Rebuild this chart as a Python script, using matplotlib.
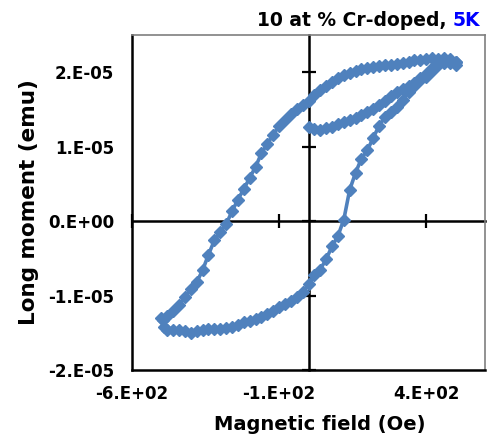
import matplotlib
matplotlib.use("Agg")
import matplotlib.pyplot as plt
import numpy as np

# Field sweep (Oe) and longitudinal moment (units of 1e-5 emu)
# Initial branch: 0 -> +500 Oe
field_initial = [0, 20, 40, 60, 80, 100, 120, 140, 160, 180, 200, 220, 240,
                 260, 280, 300, 320, 340, 360, 380, 400, 420, 440, 460, 480, 500]
moment_initial = [1.26, 1.24, 1.23, 1.25, 1.27, 1.30, 1.33, 1.36, 1.39, 1.42,
                  1.46, 1.51, 1.56, 1.62, 1.68, 1.73, 1.77, 1.82, 1.86, 1.92,
                  1.98, 2.05, 2.12, 2.16, 2.15, 2.14]

# Descending branch: +500 -> -500 Oe
field_down = [500, 480, 460, 440, 420, 400, 380, 360, 340, 320, 300, 280, 260,
              240, 220, 200, 180, 160, 140, 120, 100, 80, 60, 40, 20, 0,
              -20, -40, -60, -80, -100, -120, -140, -160, -180, -200, -220,
              -240, -260, -280, -300, -320, -340, -360, -380, -400, -420,
              -440, -460, -480, -500, -495, -490]
moment_down = [2.14, 2.18, 2.19, 2.18, 2.19, 2.18, 2.17, 2.16, 2.14, 2.12,
               2.11, 2.10, 2.10, 2.08, 2.07, 2.05, 2.04, 2.02, 1.99, 1.96,
               1.92, 1.87, 1.82, 1.76, 1.70, 1.62, 1.56, 1.50, 1.44, 1.36,
               1.28, 1.16, 1.04, 0.91, 0.73, 0.58, 0.43, 0.29, 0.13, -0.04,
               -0.15, -0.26, -0.45, -0.66, -0.82, -0.91, -1.02, -1.13, -1.21,
               -1.27, -1.30, -1.33, -1.42]

# Ascending branch: -500 -> +500 Oe
field_up = [-480, -460, -440, -420, -400, -380, -360, -340, -320, -300, -280,
            -260, -240, -220, -200, -180, -160, -140, -120, -100, -80, -60,
            -40, -20, 0, 20, 40, 60, 80, 100, 120, 140, 160, 180, 200, 220,
            240, 260, 280, 300, 320, 340, 360, 380, 400, 420, 440, 460, 480,
            500]
moment_up = [-1.46, -1.46, -1.46, -1.47, -1.50, -1.48, -1.46, -1.45, -1.45,
             -1.45, -1.43, -1.42, -1.39, -1.36, -1.34, -1.32, -1.29, -1.25,
             -1.21, -1.16, -1.12, -1.07, -1.02, -0.95, -0.85, -0.73, -0.65,
             -0.51, -0.34, -0.20, 0.02, 0.42, 0.65, 0.84, 0.95, 1.12, 1.28,
             1.40, 1.47, 1.53, 1.63, 1.74, 1.81, 1.89, 1.94, 2.01, 2.10, 2.13,
             2.12, 2.10]

x_ticks = [-600, -100, 400]
x_tick_labels = ["-6.E+02", "-1.E+02", "4.E+02"]
y_ticks = [-2, -1, 0, 1, 2]
y_tick_labels = ["-2.E-05", "-1.E-05", "0.E+00", "1.E-05", "2.E-05"]

field = np.array(field_initial + field_down + field_up, dtype=float)
moment = np.array(moment_initial + moment_down + moment_up, dtype=float)

BLUE = "#4F81BD"
FONT = "DejaVu Sans"

fig = plt.figure(figsize=(4.87, 4.34), dpi=100)
rect = [132 / 487, 1 - 370 / 434, (485 - 132) / 487, (370 - 35) / 434]
ax = fig.add_axes(rect)
ax.set_xlim(-600, 600)
ax.set_ylim(-2, 2.5)

# frame: black on left/bottom, grey plot-area border on top/right
for side in ("left", "bottom"):
    ax.spines[side].set_color("black")
    ax.spines[side].set_linewidth(1.8)
for side in ("top", "right"):
    ax.spines[side].set_color("#7f7f7f")
    ax.spines[side].set_linewidth(1.2)

ax.set_xticks(x_ticks)
ax.set_xticklabels(x_tick_labels)
ax.set_yticks(y_ticks)
ax.set_yticklabels(y_tick_labels)
ax.tick_params(axis="both", length=0, labelsize=12)
ax.tick_params(axis="y", pad=13)
ax.tick_params(axis="x", pad=11)
for lbl in ax.get_xticklabels() + ax.get_yticklabels():
    lbl.set_fontfamily(FONT)
    lbl.set_fontweight("bold")

ax.set_xlabel("Magnetic field (Oe)", fontsize=14, fontweight="bold",
              family=FONT)
ax.xaxis.set_label_coords((320 - 132) / 353, -0.135)
ax.set_ylabel("Long moment (emu)", fontsize=15.5, fontweight="bold",
              family=FONT, labelpad=6)

# axes crossing at zero with cross-style tick marks
ax0 = fig.add_axes(rect, sharex=ax, sharey=ax)
ax0.patch.set_visible(False)
for side in ("top", "right"):
    ax0.spines[side].set_visible(False)
ax0.spines["left"].set_position(("data", 0))
ax0.spines["bottom"].set_position(("data", 0))
for side in ("left", "bottom"):
    ax0.spines[side].set_linewidth(1.8)
    ax0.spines[side].set_color("black")
ax0.tick_params(axis="both", direction="inout", length=10, width=1.6,
                labelleft=False, labelbottom=False)
ax0.set_zorder(1)

ax.set_zorder(2)
ax.patch.set_visible(False)
ax.plot(field, moment, color=BLUE, lw=2.6, marker="D", ms=6.2,
        mec=BLUE, mfc=BLUE, zorder=3)

# title: black text followed by blue temperature
t_temp = fig.text(480 / 487, 1 - 21 / 434, "5K", color="#0000FF",
                  fontsize=13.5, fontweight="bold", family=FONT,
                  ha="right", va="center")
ax.annotate("10 at % Cr-doped,", xy=(0, 0.5), xycoords=t_temp,
            xytext=(-4, 0), textcoords="offset points",
            ha="right", va="center", fontsize=13.5, fontweight="bold",
            family=FONT, color="black", annotation_clip=False)

fig.savefig("out.png", dpi=100)
